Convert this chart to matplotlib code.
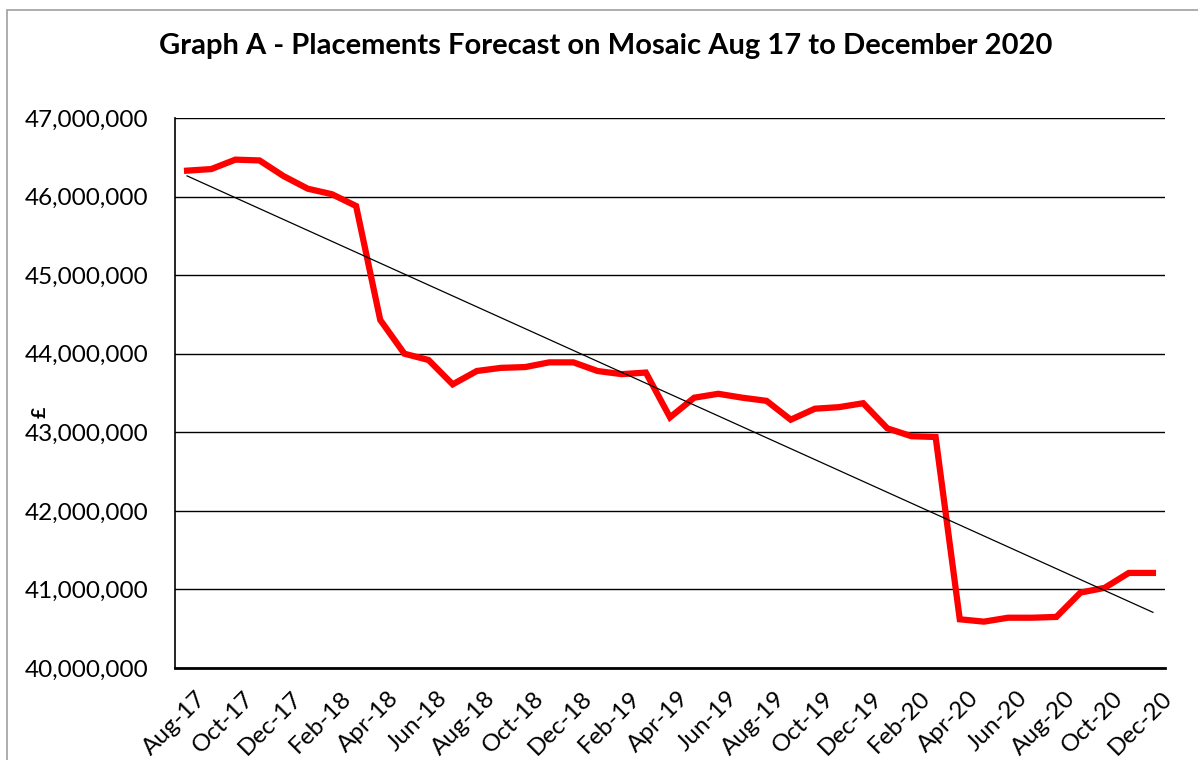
import numpy as np
import matplotlib.pyplot as plt
import matplotlib.transforms as mtransforms
from matplotlib.patches import Rectangle
from matplotlib.ticker import FuncFormatter

plt.rcParams['font.family'] = ['Lato', 'DejaVu Sans']

# monthly forecast, Aug-17 .. Dec-20 (in £)
months = ['Aug-17', 'Sep-17', 'Oct-17', 'Nov-17', 'Dec-17', 'Jan-18', 'Feb-18', 'Mar-18',
          'Apr-18', 'May-18', 'Jun-18', 'Jul-18', 'Aug-18', 'Sep-18', 'Oct-18', 'Nov-18',
          'Dec-18', 'Jan-19', 'Feb-19', 'Mar-19', 'Apr-19', 'May-19', 'Jun-19', 'Jul-19',
          'Aug-19', 'Sep-19', 'Oct-19', 'Nov-19', 'Dec-19', 'Jan-20', 'Feb-20', 'Mar-20',
          'Apr-20', 'May-20', 'Jun-20', 'Jul-20', 'Aug-20', 'Sep-20', 'Oct-20', 'Nov-20',
          'Dec-20']
placements = [46.33, 46.35, 46.47, 46.46, 46.26, 46.10, 46.03, 45.88,
              44.43, 44.00, 43.92, 43.61, 43.78, 43.82, 43.83, 43.89,
              43.89, 43.78, 43.74, 43.76, 43.19, 43.44, 43.49, 43.44,
              43.40, 43.16, 43.30, 43.32, 43.37, 43.05, 42.95, 42.94,
              40.62, 40.59, 40.64, 40.64, 40.65, 40.96, 41.02, 41.21,
              41.21]
placements = [v * 1e6 for v in placements]
y_ticks = [40e6, 41e6, 42e6, 43e6, 44e6, 45e6, 46e6, 47e6]

x = np.arange(len(months))
slope, icept = np.polyfit(x, placements, 1)
trend = slope * x + icept

fig = plt.figure(figsize=(11.98, 7.6), dpi=100)
fig.patches.append(Rectangle((7 / 1198, -0.1), 1.2, 1.1 - 10 / 760, transform=fig.transFigure,
                             fill=False, edgecolor='#a0a0a0', lw=1.2))
ax = fig.add_axes([175 / 1198, 1 - 668 / 760, 990 / 1198, 550 / 760])

ax.plot(x, placements, color='#ff0000', lw=4.5, solid_joinstyle='miter', zorder=3)
ax.plot(x, trend, color='black', lw=0.9, zorder=4)

ax.set_xlim(-0.5, len(months) - 0.5)
ax.set_ylim(40e6, 47e6)
ax.set_yticks(y_ticks)
ax.yaxis.set_major_formatter(FuncFormatter(lambda v, p: f'{v:,.0f}'))
ax.set_xticks(x[::2])
ax.set_xticklabels(months[::2], rotation=45, ha='right', rotation_mode='anchor')
ax.tick_params(axis='both', length=0)
ax.tick_params(axis='y', labelsize=17.5, pad=19)
ax.tick_params(axis='x', labelsize=17.5, pad=14)
shift = mtransforms.ScaledTranslation(8 / 100, 0, fig.dpi_scale_trans)
for lbl in ax.get_xticklabels():
    lbl.set_transform(lbl.get_transform() + shift)
ax.grid(axis='y', color='black', lw=1)
ax.set_axisbelow(True)
for s in ['top', 'right']:
    ax.spines[s].set_visible(False)
ax.spines['left'].set_linewidth(1.2)
ax.spines['bottom'].set_linewidth(2)

fig.text(40 / 1198, 1 - 412 / 760, '£', rotation=90, fontsize=14, fontweight='bold',
         ha='center', va='center')
fig.text(606 / 1198, 1 - 46 / 760, 'Graph A - Placements Forecast on Mosaic Aug 17 to December 2020',
         fontsize=21, fontweight='bold', ha='center', va='center')

fig.savefig('out.png', dpi=100)
